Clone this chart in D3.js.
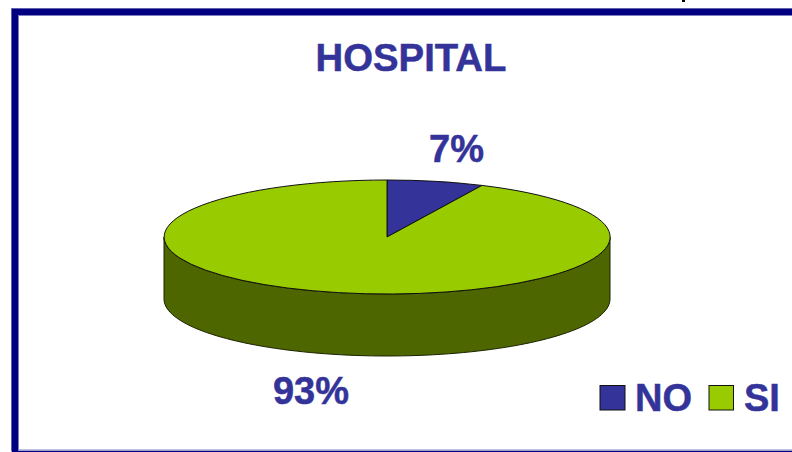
<!DOCTYPE html>
<html>
<head>
<meta charset="utf-8">
<script src="https://cdn.jsdelivr.net/npm/d3@7"></script>
<style>
html,body{margin:0;padding:0;background:#fff;overflow:hidden}
svg{display:block}
text{font-family:"Liberation Sans",Arial,sans-serif;font-weight:bold;fill:#333399;stroke:#333399;stroke-width:0.5px}
</style>
</head>
<body>
<div id="chart"></div>
<script>
const categories = ["NO", "SI"];
const values = [7, 93];
const percentLabels = ["7%", "93%"];
const chartTitle = "HOSPITAL";
const topColors = ["#333399", "#99CC00"];
const sideColor = "#4D6600";

const W = 792, H = 452;
const svg = d3.select("#chart").append("svg").attr("width", W).attr("height", H);

// frame
svg.append("rect").attr("x", 11.5).attr("y", 8.5).attr("width", W + 20).attr("height", 442)
  .attr("fill", "none").attr("stroke", "#8080c0").attr("stroke-width", 1);
svg.append("rect").attr("x", 15).attr("y", 12).attr("width", W + 20).attr("height", 442)
  .attr("fill", "#fff").attr("stroke", "#000080").attr("stroke-width", 6.5);
svg.append("rect").attr("x", 18.5).attr("y", 15.5).attr("width", W + 20).attr("height", 434.5)
  .attr("fill", "none").attr("stroke", "#8080c0").attr("stroke-width", 1);
svg.append("rect").attr("x", 682).attr("y", 0).attr("width", 3).attr("height", 2).attr("fill", "#000");

// title
svg.append("text").attr("x", 411).attr("y", 71).attr("text-anchor", "middle")
  .attr("font-size", 38.3).text(chartTitle);

// pie
const cx = 387, cy = 237, rx = 223, ry = 57, depth = 62;
const pie = d3.pie().sort(null).value(d => d);
const arcs = pie(values);

const px = d3.scaleLinear().domain([-1, 1]).range([cx - rx, cx + rx]);
const py = d3.scaleLinear().domain([-1, 1]).range([cy - ry, cy + ry]);

// side wall: visible lower half of the rim
const halfAngles = d3.range(90, 271, 2).map(a => a * Math.PI / 180);
const wallPts = halfAngles.map(a => [px(Math.sin(a)), py(-Math.cos(a))]);
const lowerPts = wallPts.map(p => [p[0], p[1] + depth]);
const wall = d3.line()([...wallPts, ...lowerPts.reverse()]) + "Z";
svg.append("path").attr("d", wall).attr("fill", sideColor)
  .attr("stroke", "#1a2200").attr("stroke-width", 1);

// top slices
const arcGen = d3.arc().innerRadius(0).outerRadius(1);
const topG = svg.append("g").attr("transform", `translate(${cx},${cy}) scale(${rx},${ry})`);
topG.selectAll("path").data(arcs).join("path")
  .attr("d", arcGen)
  .attr("fill", (d, i) => topColors[i])
  .attr("stroke", "#111")
  .attr("stroke-width", 1)
  .attr("vector-effect", "non-scaling-stroke");

// data labels
const labelPos = [[456.5, 162], [311, 404]];
svg.selectAll("text.pct").data(percentLabels).join("text")
  .attr("class", "pct")
  .attr("x", (d, i) => labelPos[i][0])
  .attr("y", (d, i) => labelPos[i][1])
  .attr("text-anchor", "middle")
  .attr("font-size", 38)
  .text(d => d);

// legend
const legX = [600, 709], legTextX = [635, 744];
const leg = svg.selectAll("g.leg").data(categories).join("g").attr("class", "leg");
leg.append("rect")
  .attr("x", (d, i) => legX[i]).attr("y", 385.5)
  .attr("width", (d, i) => i ? 24.5 : 25).attr("height", 24.5)
  .attr("fill", (d, i) => topColors[i])
  .attr("stroke", "#111").attr("stroke-width", 1);
leg.append("text")
  .attr("x", (d, i) => legTextX[i]).attr("y", 411)
  .attr("font-size", 38).text(d => d);
</script>
</body>
</html>
